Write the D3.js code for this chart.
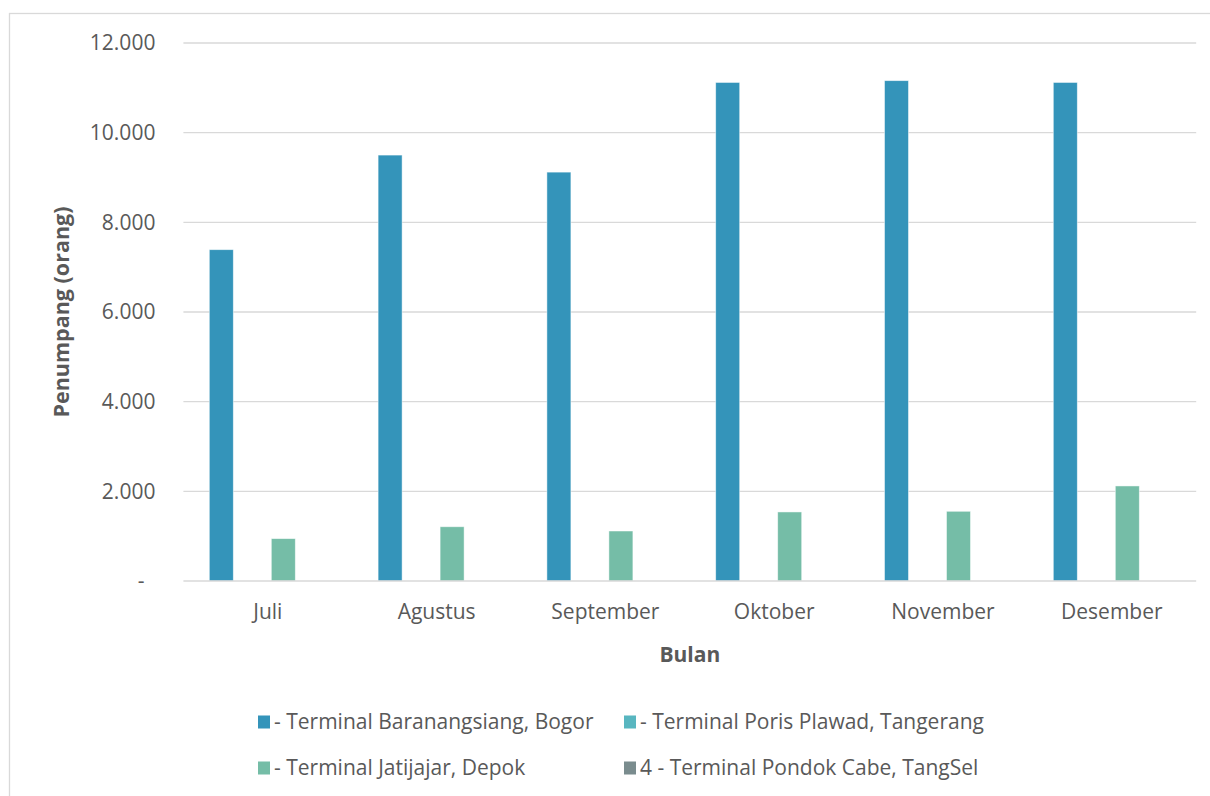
<!DOCTYPE html>
<html>
<head>
<meta charset="utf-8">
<script src="https://cdn.jsdelivr.net/npm/d3@7"></script>
<style>
  html, body { margin: 0; padding: 0; background: #fff; }
  svg { display: block; font-family: "Open Sans", sans-serif; }
</style>
</head>
<body>
<svg id="chart" width="1210" height="796"></svg>
<script>
const months = ["Juli", "Agustus", "September", "Oktober", "November", "Desember"];
const seriesNames = [
  "- Terminal Baranangsiang, Bogor",
  "- Terminal Poris Plawad, Tangerang",
  "- Terminal Jatijajar, Depok",
  "4 - Terminal Pondok Cabe, TangSel"
];
const baranangsiang = [7390, 9500, 9120, 11120, 11160, 11120];
const porisPlawad   = [0, 0, 0, 0, 0, 0];
const jatijajar     = [945, 1210, 1115, 1540, 1555, 2120];
const pondokCabe    = [0, 0, 0, 0, 0, 0];
const yTicks = [0, 2000, 4000, 6000, 8000, 10000, 12000];
const colors = ["#3494ba", "#58b6c0", "#75bda7", "#7a8c8e"];

const seriesValues = [baranangsiang, porisPlawad, jatijajar, pondokCabe];

const svg = d3.select("#chart");
const textColor = "#595959";

// chart frame
svg.append("rect")
  .attr("x", 9.5).attr("y", 13.5)
  .attr("width", 1230).attr("height", 800)
  .attr("fill", "#fff").attr("stroke", "#d9d9d9").attr("stroke-width", 1.3);

const plot = { left: 183.4, right: 1196.2, top: 43, bottom: 581 };

const x0 = d3.scaleBand().domain(months).range([plot.left, plot.right]).padding(0);
const x1 = d3.scaleBand().domain(d3.range(seriesNames.length))
  .range([-58.5, 58.5]).paddingInner(0.2258).paddingOuter(0);
const y = d3.scaleLinear().domain([0, 12000]).range([plot.bottom, plot.top]);

const locale = d3.formatLocale({ decimal: ",", thousands: ".", grouping: [3], currency: ["", ""] });
const fmt = locale.format(",.0f");

// gridlines
const g = svg.append("g");
g.selectAll("line.grid").data(yTicks.filter(d => d > 0)).join("line")
  .attr("class", "grid")
  .attr("x1", plot.left).attr("x2", plot.right)
  .attr("y1", d => y(d)).attr("y2", d => y(d))
  .attr("stroke", "#d9d9d9").attr("stroke-width", 1.3);

// y axis labels
const yAxis = d3.axisLeft(y).tickValues(yTicks)
  .tickFormat(d => d === 0 ? "-" : fmt(d)).tickSize(0).tickPadding(28);
const ya = svg.append("g").attr("transform", `translate(${plot.left},0)`).call(yAxis);
ya.select(".domain").remove();
ya.selectAll("text").attr("fill", textColor).style("font-size", "21px")
  .style("font-family", "'Open Sans', sans-serif")
  .attr("dx", d => d === 0 ? -11 : 0);

// bars
const groups = svg.append("g").selectAll("g").data(months).join("g")
  .attr("transform", m => `translate(${x0(m) + x0.bandwidth() / 2},0)`);
groups.selectAll("rect").data((m, i) => seriesValues.map((s, k) => ({ k, v: s[i] })))
  .join("rect")
  .attr("x", d => x1(d.k))
  .attr("width", x1.bandwidth())
  .attr("y", d => y(d.v))
  .attr("height", d => y(0) - y(d.v))
  .attr("fill", d => colors[d.k])
  .attr("stroke", "#ffffff").attr("stroke-opacity", 0.6).attr("stroke-width", 0.8);

// x axis baseline
svg.append("line")
  .attr("x1", plot.left).attr("x2", plot.right)
  .attr("y1", y(0)).attr("y2", y(0))
  .attr("stroke", "#d9d9d9").attr("stroke-width", 1.6);

// x axis labels
const xAxis = d3.axisBottom(x0).tickSize(0).tickPadding(23);
const xa = svg.append("g").attr("transform", `translate(0,${plot.bottom})`).call(xAxis);
xa.select(".domain").remove();
xa.selectAll("text").attr("fill", textColor).style("font-size", "21px")
  .style("font-family", "'Open Sans', sans-serif");

// axis titles
svg.append("text")
  .attr("x", (plot.left + plot.right) / 2).attr("y", 662)
  .attr("text-anchor", "middle").attr("fill", textColor)
  .style("font-size", "21px").style("font-weight", "bold")
  .text("Bulan");
svg.append("text")
  .attr("transform", `translate(69,${(plot.top + plot.bottom) / 2}) rotate(-90)`)
  .attr("text-anchor", "middle").attr("fill", textColor)
  .style("font-size", "21.5px").style("font-weight", "bold")
  .text("Penumpang (orang)");

// legend
const legPos = [[258, 722], [624, 722], [258, 768], [624, 768]];
const leg = svg.append("g").selectAll("g").data(seriesNames).join("g")
  .attr("transform", (d, i) => `translate(${legPos[i][0]},${legPos[i][1]})`);
leg.append("rect").attr("x", 0).attr("y", -6.5).attr("width", 12).attr("height", 13)
  .attr("fill", (d, i) => colors[i]);
leg.append("text").attr("x", 16).attr("y", 0).attr("dy", "0.35em")
  .attr("fill", textColor).style("font-size", "21px").text(d => d);
</script>
</body>
</html>
